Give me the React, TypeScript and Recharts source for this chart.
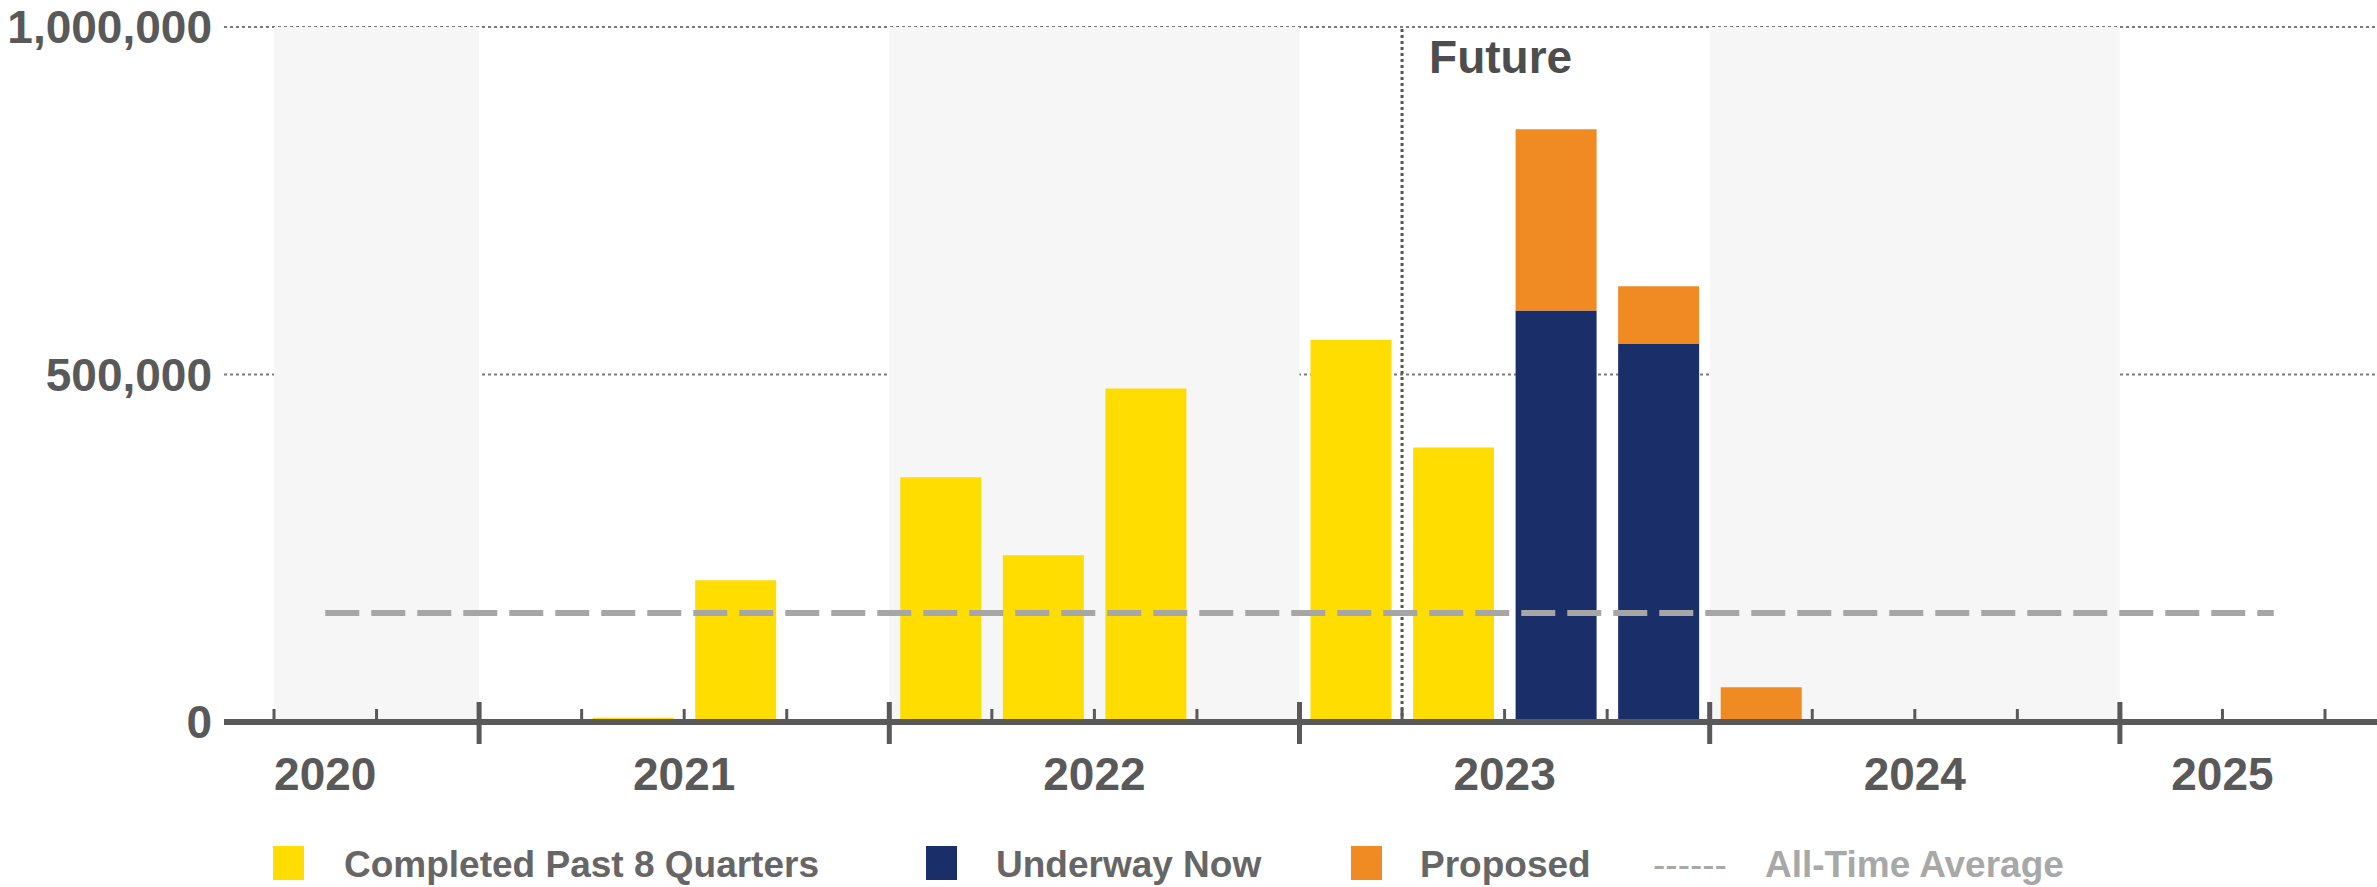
import { ComposedChart, Bar, XAxis, YAxis, CartesianGrid, ReferenceArea, ReferenceLine } from "recharts"

// quarters shown on the axis, 2020 Q3 .. 2025 Q2
const quarters = [
  "2020 Q3", "2020 Q4",
  "2021 Q1", "2021 Q2", "2021 Q3", "2021 Q4",
  "2022 Q1", "2022 Q2", "2022 Q3", "2022 Q4",
  "2023 Q1", "2023 Q2", "2023 Q3", "2023 Q4",
  "2024 Q1", "2024 Q2", "2024 Q3", "2024 Q4",
  "2025 Q1", "2025 Q2",
]
const completed = [0, 0, 0, 6000, 204000, 0, 352000, 240000, 480000, 0, 550000, 395000, 0, 0, 0, 0, 0, 0, 0, 0]
const underway = [0, 0, 0, 0, 0, 0, 0, 0, 0, 0, 0, 0, 592000, 544000, 0, 0, 0, 0, 0, 0]
const proposed = [0, 0, 0, 0, 0, 0, 0, 0, 0, 0, 0, 0, 261000, 83000, 50000, 0, 0, 0, 0, 0]
const allTimeAverage = 157000

const yTicks = [0, 500000, 1000000]
const yearLabels = ["2020", "2021", "2022", "2023", "2024", "2025"]
const yearLabelAt = [0.5, 4, 8, 12, 16, 19]
const yearStarts = [2, 6, 10, 14, 18]
const shadedSpans = [[0, 2], [6, 10], [14, 18]]
const futureStart = 11

const legendItems = [
  { label: "Completed Past 8 Quarters", color: "#FFDD00", kind: "box" },
  { label: "Underway Now", color: "#1A2F6A", kind: "box" },
  { label: "Proposed", color: "#EF8B22", kind: "box" },
  { label: "All-Time Average", color: "#A8A8A8", kind: "dash" },
]

const rows = quarters.map((q, i) => ({
  q,
  x: i + 0.5,
  completed: completed[i],
  underway: underway[i],
  proposed: proposed[i],
}))
const boundaries = quarters.map((_, i) => i).concat(quarters.length)

const TEXT = "#595959"
const FONT = "'Liberation Sans', Arial, sans-serif"

// marker left / text left for each legend entry
const legendPos = [
  [273, 344],
  [926, 996],
  [1351, 1420],
  [1653, 1765],
]
const LEGEND_TOP = 846

function QuarterTick(props: any) {
  const { x, y, payload } = props
  const major = yearStarts.includes(payload.value)
  return (
    <line
      x1={x}
      x2={x}
      y1={y - (major ? 20 : 13)}
      y2={y + (major ? 22 : 0)}
      stroke={TEXT}
      strokeWidth={major ? 5 : 3}
    />
  )
}

function FutureLabel(props: any) {
  const { viewBox } = props
  return (
    <text x={viewBox.x + 27} y={viewBox.y + 46} fill="#4d4d4d" fontSize={46} fontWeight={700}>
      Future
    </text>
  )
}

export default function App() {
  return (
    <div style={{ position: "relative", width: 2377, height: 887, overflow: "hidden", fontFamily: FONT, background: "#fff" }}>
      <style>{"body{margin:0}"}</style>
      <ComposedChart width={2377} height={887} data={rows} margin={{ top: 27, right: 0, bottom: 0, left: 0 }}>
        {shadedSpans.map(([a, b]) => (
          <ReferenceArea
            key={a}
            xAxisId="q"
            x1={a}
            x2={b}
            y1={0}
            y2={1000000}
            fill="#F6F6F6"
            fillOpacity={1}
            stroke="none"
          />
        ))}
        <CartesianGrid vertical={false} stroke="#7a7a7a" strokeDasharray="3 3" strokeWidth={2} />
        <YAxis
          type="number"
          domain={[0, 1000000]}
          ticks={yTicks}
          width={224}
          axisLine={false}
          tickLine={false}
          tickSize={0}
          tickMargin={12}
          tickFormatter={(v: number) => v.toLocaleString("en-US")}
          tick={{ fill: TEXT, fontSize: 46, fontWeight: 700 }}
        />
        <Bar xAxisId="q" dataKey="completed" stackId="s" fill="#FFDD00" barSize={81} isAnimationActive={false} />
        <Bar xAxisId="q" dataKey="underway" stackId="s" fill="#1A2F6A" barSize={81} isAnimationActive={false} />
        <Bar xAxisId="q" dataKey="proposed" stackId="s" fill="#EF8B22" barSize={81} isAnimationActive={false} />
        <XAxis
          xAxisId="q"
          type="number"
          dataKey="x"
          domain={[0, quarters.length]}
          padding={{ left: 50, right: 52 }}
          ticks={boundaries}
          interval={0}
          height={2}
          axisLine={{ stroke: TEXT, strokeWidth: 6 }}
          tickLine={false}
          tickSize={0}
          tickMargin={0}
          tick={<QuarterTick />}
        />
        <XAxis
          xAxisId="y"
          type="number"
          dataKey="x"
          domain={[0, quarters.length]}
          padding={{ left: 50, right: 52 }}
          ticks={yearLabelAt}
          interval={0}
          height={163}
          axisLine={false}
          tickLine={false}
          tickSize={0}
          tickMargin={33}
          tickFormatter={(v: number) => yearLabels[yearLabelAt.indexOf(v)]}
          tick={{ fill: TEXT, fontSize: 46, fontWeight: 700 }}
        />
        <ReferenceLine
          xAxisId="q"
          x={futureStart}
          stroke="#555"
          strokeWidth={3}
          strokeDasharray="3 3"
          label={<FutureLabel />}
        />
        <ReferenceLine
          xAxisId="q"
          segment={[
            { x: rows[0].x, y: allTimeAverage },
            { x: rows[rows.length - 1].x, y: allTimeAverage },
          ]}
          stroke="#A6A6A6"
          strokeWidth={6}
          strokeDasharray="34 12"
        />
      </ComposedChart>
      {legendItems.map((item, i) => (
        <div key={item.label}>
          {item.kind === "box" ? (
            <div
              style={{
                position: "absolute",
                left: legendPos[i][0],
                top: LEGEND_TOP,
                width: 31,
                height: 34,
                background: item.color,
              }}
            />
          ) : (
            <div
              style={{
                position: "absolute",
                left: legendPos[i][0],
                top: LEGEND_TOP,
                fontSize: 37,
                lineHeight: "37px",
                fontWeight: 400,
                color: item.color,
                whiteSpace: "nowrap",
              }}
            >
              ------
            </div>
          )}
          <div
            style={{
              position: "absolute",
              left: legendPos[i][1],
              top: LEGEND_TOP,
              fontSize: 37,
              lineHeight: "37px",
              fontWeight: 700,
              color: item.kind === "dash" ? item.color : "#666",
              whiteSpace: "nowrap",
            }}
          >
            {item.label}
          </div>
        </div>
      ))}
    </div>
  )
}
